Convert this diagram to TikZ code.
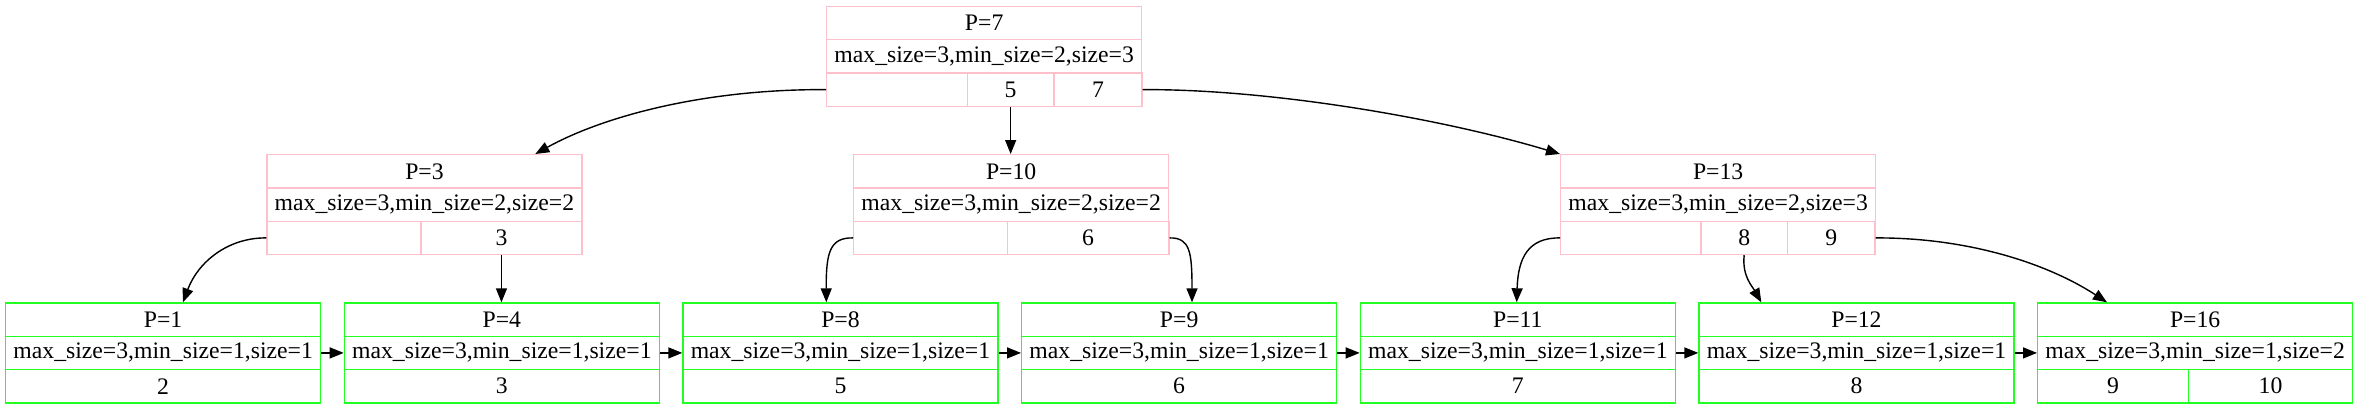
\documentclass[tikz,border=0pt]{standalone}
\usepackage{fontspec}
\setmainfont{Liberation Serif}
\usetikzlibrary{arrows.meta}
\definecolor{gvpink}{HTML}{FFC0CB}
\definecolor{gvgreen}{HTML}{22FF22}
\newcommand\leafrec[5]{%
  \node[leaf, minimum width=315pt] (#1t) at (#2,302.3) {#3};
  \node[leaf, minimum width=315pt] (#1i) at (#2,335.6) {#4};
  \node[leaf, minimum width=315pt] (#1k) at (#2,368.9) {#5};}
\newcommand\innerrec[4]{%
  \node[inr, minimum width=315pt] (#1t) at (#2,#3) {P=#4};}
\begin{document}
\begin{tikzpicture}[x=1pt,y=-1pt,
  cell/.style={draw, line width=1.3pt, minimum height=33.33pt, inner sep=0pt,
    anchor=north west, font=\fontsize{23.7}{28}\selectfont},
  inr/.style={cell, draw=gvpink},
  leaf/.style={cell, draw=gvgreen},
  link/.style={line width=1.4pt, -{Triangle[length=14pt,width=11pt]}}]
\useasboundingbox (0,0) rectangle (2357,407);

% root P=7
\node[inr, minimum width=315pt] (rt) at (826,5.7) {P=7};
\node[inr, minimum width=315pt] (ri) at (826,39) {max\_size=3,min\_size=2,size=3};
\node[inr, minimum width=140.7pt] (rk0) at (826,72.3) {};
\node[inr, minimum width=86.6pt] (rk1) at (966.7,72.3) {5};
\node[inr, minimum width=88pt] (rk2) at (1053.3,72.3) {7};

% P=3
\node[inr, minimum width=315pt] (at) at (266.3,154) {P=3};
\node[inr, minimum width=315pt] (ai) at (266.3,187.3) {max\_size=3,min\_size=2,size=2};
\node[inr, minimum width=154pt] (ak0) at (266.3,220.6) {};
\node[inr, minimum width=161pt] (ak1) at (420.3,220.6) {3};

% P=10
\node[inr, minimum width=315pt] (bt) at (853,154) {P=10};
\node[inr, minimum width=315pt] (bi) at (853,187.3) {max\_size=3,min\_size=2,size=2};
\node[inr, minimum width=153.7pt] (bk0) at (853,220.6) {};
\node[inr, minimum width=161.6pt] (bk1) at (1006.7,220.6) {6};

% P=13
\node[inr, minimum width=315pt] (ct) at (1560,154) {P=13};
\node[inr, minimum width=315pt] (ci) at (1560,187.3) {max\_size=3,min\_size=2,size=3};
\node[inr, minimum width=140.3pt] (ck0) at (1560,220.6) {};
\node[inr, minimum width=86.4pt] (ck1) at (1700.3,220.6) {8};
\node[inr, minimum width=87.6pt] (ck2) at (1786.7,220.6) {9};

% leaves
\leafrec{la}{5}{P=1}{max\_size=3,min\_size=1,size=1}{2}
\leafrec{lb}{343.7}{P=4}{max\_size=3,min\_size=1,size=1}{3}
\leafrec{lc}{682.3}{P=8}{max\_size=3,min\_size=1,size=1}{5}
\leafrec{ld}{1021}{P=9}{max\_size=3,min\_size=1,size=1}{6}
\leafrec{le}{1359.7}{P=11}{max\_size=3,min\_size=1,size=1}{7}
\leafrec{lf}{1698.3}{P=12}{max\_size=3,min\_size=1,size=1}{8}
\node[leaf, minimum width=315pt] (lgt) at (2037,302.3) {P=16};
\node[leaf, minimum width=315pt] (lgi) at (2037,335.6) {max\_size=3,min\_size=1,size=2};
\node[leaf, minimum width=150.7pt] (lgk0) at (2037,368.9) {9};
\node[leaf, minimum width=164.3pt] (lgk1) at (2187.7,368.9) {10};

% root edges
\draw[link] (rk0.west) .. controls (700,89) and (600,118) .. ([xshift=269pt]at.north west);
\draw[link] (rk1.south) -- (rk1.south |- bt.north);
\draw[link] (rk2.east) .. controls (1270,89) and (1440,118) .. (ct.north west);

% P=3 edges
\draw[link] (ak0.west) .. controls (228,237.5) and (198,262) .. ([xshift=178pt]lat.north west);
\draw[link] (ak1.south) -- (ak1.south |- lbt.north);

% P=10 edges
\draw[link] (bk0.west) .. controls (830,237.5) and (826,252) .. ([xshift=144pt]lct.north west);
\draw[link] (bk1.east) .. controls (1190,237.5) and (1192,252) .. ([xshift=171pt]ldt.north west);

% P=13 edges
\draw[link] (ck0.west) .. controls (1528,237.5) and (1518,258) .. ([xshift=157pt]let.north west);
\draw[link] (ck1.south) .. controls (1742,276) and (1752,286) .. ([xshift=63pt]lft.north west);
\draw[link] (ck2.east) .. controls (1965,237.5) and (2045,262) .. ([xshift=70pt]lgt.north west);

% leaf chain
\draw[link] (lai.east) -- (lbi.west);
\draw[link] (lbi.east) -- (lci.west);
\draw[link] (lci.east) -- (ldi.west);
\draw[link] (ldi.east) -- (lei.west);
\draw[link] (lei.east) -- (lfi.west);
\draw[link] (lfi.east) -- (lgi.west);
\end{tikzpicture}
\end{document}
